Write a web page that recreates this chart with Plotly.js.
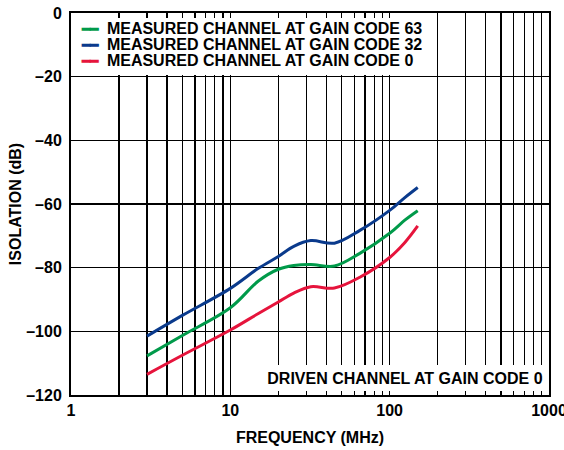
<!DOCTYPE html>
<html>
<head>
<meta charset="utf-8">
<script src="https://cdn.plot.ly/plotly-3.0.1.min.js"></script>
<style>html,body{margin:0;padding:0;background:#fff;}#chart{width:564px;height:450px;}</style>
</head>
<body>
<div id="chart"></div>
<script>
// Frequency (MHz)
const freq = [3, 5, 10, 15, 20, 25, 32, 45, 65, 100, 125, 150];
// Isolation (dB)
const gain63 = [-107.7, -101.3, -92.6, -84.2, -80.5, -79.3, -79.0, -79.5, -75.5, -69.2, -65.0, -62.1];
const gain32 = [-101.5, -95.0, -86.5, -80.2, -76.5, -73.3, -71.5, -72.3, -68.3, -62.0, -57.9, -54.8];
const gain0  = [-113.5, -107.5, -99.6, -94.4, -90.8, -88.0, -86.0, -86.4, -83.0, -76.8, -72.0, -66.9];

const seriesNames = ['MEASURED CHANNEL AT GAIN CODE 63', 'MEASURED CHANNEL AT GAIN CODE 32', 'MEASURED CHANNEL AT GAIN CODE 0'];
const seriesColors = ['#009a4a', '#0a3a8c', '#e6143c'];
const noteText = 'DRIVEN CHANNEL AT GAIN CODE 0';

const yTickVals = [-120, -100, -80, -60, -40, -20, 0];
const yTickText = ['\u2013120', '\u2013100', '\u201380', '\u201360', '\u201340', '\u201320', '0'];

const xTickVals = [];
const xTickText = [];
[1, 10, 100].forEach(d => {
  for (let k = 1; k <= 9; k++) {
    xTickVals.push(k * d);
    xTickText.push(k === 1 ? String(d) : '');
  }
});
xTickVals.push(1000); xTickText.push('1000');

const b = s => (s ? '<b>' + s + '</b>' : '');

const seriesData = [gain63, gain32, gain0];
const traces = seriesData.map((ys, i) => ({
  x: freq, y: ys, type: 'scatter', mode: 'lines', name: seriesNames[i],
  line: {color: seriesColors[i], width: 3, shape: 'spline', smoothing: 1},
  showlegend: false, hoverinfo: 'skip'
}));

const fontFam = '"Liberation Sans", Arial, sans-serif';
const boldFont = {family: fontFam, size: 16, color: '#000', weight: 700};
const annotations = [
  {xref: 'paper', yref: 'paper', x: 0, y: 1, xanchor: 'left', yanchor: 'top', xshift: 2, yshift: -5,
   text: ' ', showarrow: false, width: 363, height: 57, bgcolor: '#ffffff', borderpad: 0, borderwidth: 0}
];
seriesNames.forEach((n, i) => {
  annotations.push({xref: 'paper', yref: 'paper', x: 0, y: 1, xanchor: 'left', yanchor: 'middle',
    xshift: 10, yshift: -15 - 16 * i, showarrow: false, align: 'left', borderpad: 0, borderwidth: 0,
    text: '<span style="color:' + seriesColors[i] + ';font-size:14px">\u2501\u2501</span>\u00a0\u00a0' + b(n),
    font: boldFont});
});
annotations.push({xref: 'paper', yref: 'paper', x: 1, y: 0, xanchor: 'right', yanchor: 'bottom',
  xshift: -2, yshift: 4, width: 281, height: 26, align: 'right', showarrow: false,
  text: b(noteText) + '\u00a0', bgcolor: '#ffffff', borderpad: 0, borderwidth: 0,
  font: boldFont});

const layout = {
  width: 564, height: 450,
  margin: {l: 71, r: 15, t: 13, b: 55},
  paper_bgcolor: '#fff', plot_bgcolor: '#fff',
  font: boldFont,
  showlegend: false,
  xaxis: {
    type: 'log', range: [0, 3], tickmode: 'array', tickvals: xTickVals, ticktext: xTickText.map(b),
    showgrid: true, gridcolor: '#000', gridwidth: 1.2,
    showline: true, linecolor: '#000', linewidth: 2, mirror: 'ticks',
    ticks: 'inside', ticklen: 4, tickcolor: '#000', tickwidth: 1,
    zeroline: false, ticklabeloverflow: 'allow', tickfont: boldFont,
    title: {text: b('FREQUENCY (MHz)'), standoff: 14, font: boldFont}
  },
  yaxis: {
    range: [-120, 0], tickmode: 'array', tickvals: yTickVals, ticktext: yTickText.map(b),
    showgrid: true, gridcolor: '#000', gridwidth: 1.2,
    showline: true, linecolor: '#000', linewidth: 2, mirror: 'ticks',
    ticks: 'inside', ticklen: 4, tickcolor: '#000', tickwidth: 1,
    zeroline: false, ticklabelstandoff: 4, tickfont: boldFont,
    title: {text: b('ISOLATION (dB)'), standoff: 1, font: boldFont}
  },
  annotations: annotations
};

Plotly.newPlot('chart', traces, layout, {displayModeBar: false, staticPlot: true});
</script>
</body>
</html>
